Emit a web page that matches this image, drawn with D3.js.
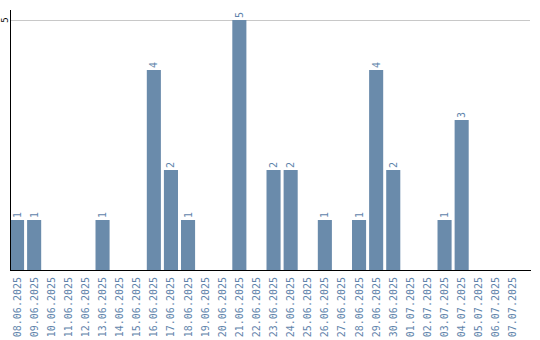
<!DOCTYPE html>
<html>
<head>
<meta charset="utf-8">
<script src="https://cdn.jsdelivr.net/npm/d3@7"></script>
<style>
  body { margin: 0; background: #fff; }
  svg text { font-family: "DejaVu Sans Mono", monospace; }
</style>
</head>
<body>
<div id="chart"></div>
<script>
// dates shown on the x axis
const dates = [
    '08.06.2025', '09.06.2025', '10.06.2025', '11.06.2025', '12.06.2025',
    '13.06.2025', '14.06.2025', '15.06.2025', '16.06.2025', '17.06.2025',
    '18.06.2025', '19.06.2025', '20.06.2025', '21.06.2025', '22.06.2025',
    '23.06.2025', '24.06.2025', '25.06.2025', '26.06.2025', '27.06.2025',
    '28.06.2025', '29.06.2025', '30.06.2025', '01.07.2025', '02.07.2025',
    '03.07.2025', '04.07.2025', '05.07.2025', '06.07.2025', '07.07.2025'
];
const counts = [1, 1, 0, 0, 0, 1, 0, 0, 4, 2, 1, 0, 0, 5, 0, 2, 2, 0, 1, 0, 1, 4, 2, 0, 0, 1, 3, 0, 0, 0];
const yTicks = [5];

const width = 540, height = 340;
const barColor = '#6a8bab';
const labelColor = '#5f84ab';

const svg = d3.select('#chart').append('svg')
    .attr('width', width)
    .attr('height', height);

const x = d3.scaleBand()
    .domain(dates)
    .range([10, 520])
    .paddingInner(3 / 17)
    .paddingOuter(0)
    .align(0);

const y = d3.scaleLinear()
    .domain([0, 5])
    .range([270, 20]);

// grid line
svg.selectAll('line.grid')
    .data(yTicks)
    .enter()
    .append('line')
    .attr('x1', 11)
    .attr('x2', 530)
    .attr('y1', d => y(d) + 0.5)
    .attr('y2', d => y(d) + 0.5)
    .attr('stroke', '#c8c8c8')
    .attr('stroke-width', 1);

// y tick labels, rotated
svg.selectAll('text.ytick')
    .data(yTicks)
    .enter()
    .append('text')
    .attr('transform', d => `translate(8,${y(d)}) rotate(-90)`)
    .attr('text-anchor', 'middle')
    .attr('font-size', 9)
    .attr('fill', '#000')
    .text(d => d);

// bars
const data = dates.map((d, i) => ({ date: d, value: counts[i] }));

svg.selectAll('rect.bar')
    .data(data.filter(d => d.value > 0))
    .enter()
    .append('rect')
    .attr('x', d => x(d.date))
    .attr('y', d => y(d.value))
    .attr('width', x.bandwidth())
    .attr('height', d => y(0) - y(d.value))
    .attr('fill', barColor);

// value labels above bars
svg.selectAll('text.val')
    .data(data.filter(d => d.value > 0))
    .enter()
    .append('text')
    .attr('transform', d => `translate(${x(d.date) + x.bandwidth() / 2 + 3.5},${y(d.value) - 2}) rotate(-90)`)
    .attr('text-anchor', 'start')
    .attr('font-size', 10)
    .attr('fill', labelColor)
    .text(d => d.value);

// axes lines
svg.append('line')
    .attr('x1', 10.5).attr('x2', 10.5)
    .attr('y1', 10).attr('y2', 270)
    .attr('stroke', '#000');
svg.append('line')
    .attr('x1', 10).attr('x2', 531)
    .attr('y1', 270.5).attr('y2', 270.5)
    .attr('stroke', '#000');

// x labels, rotated
svg.selectAll('text.xlab')
    .data(dates)
    .enter()
    .append('text')
    .attr('transform', d => `translate(${x(d) + x.bandwidth() / 2 + 3.5},277) rotate(-90)`)
    .attr('text-anchor', 'end')
    .attr('font-size', 10)
    .attr('fill', labelColor)
    .text(d => d);
</script>
</body>
</html>
